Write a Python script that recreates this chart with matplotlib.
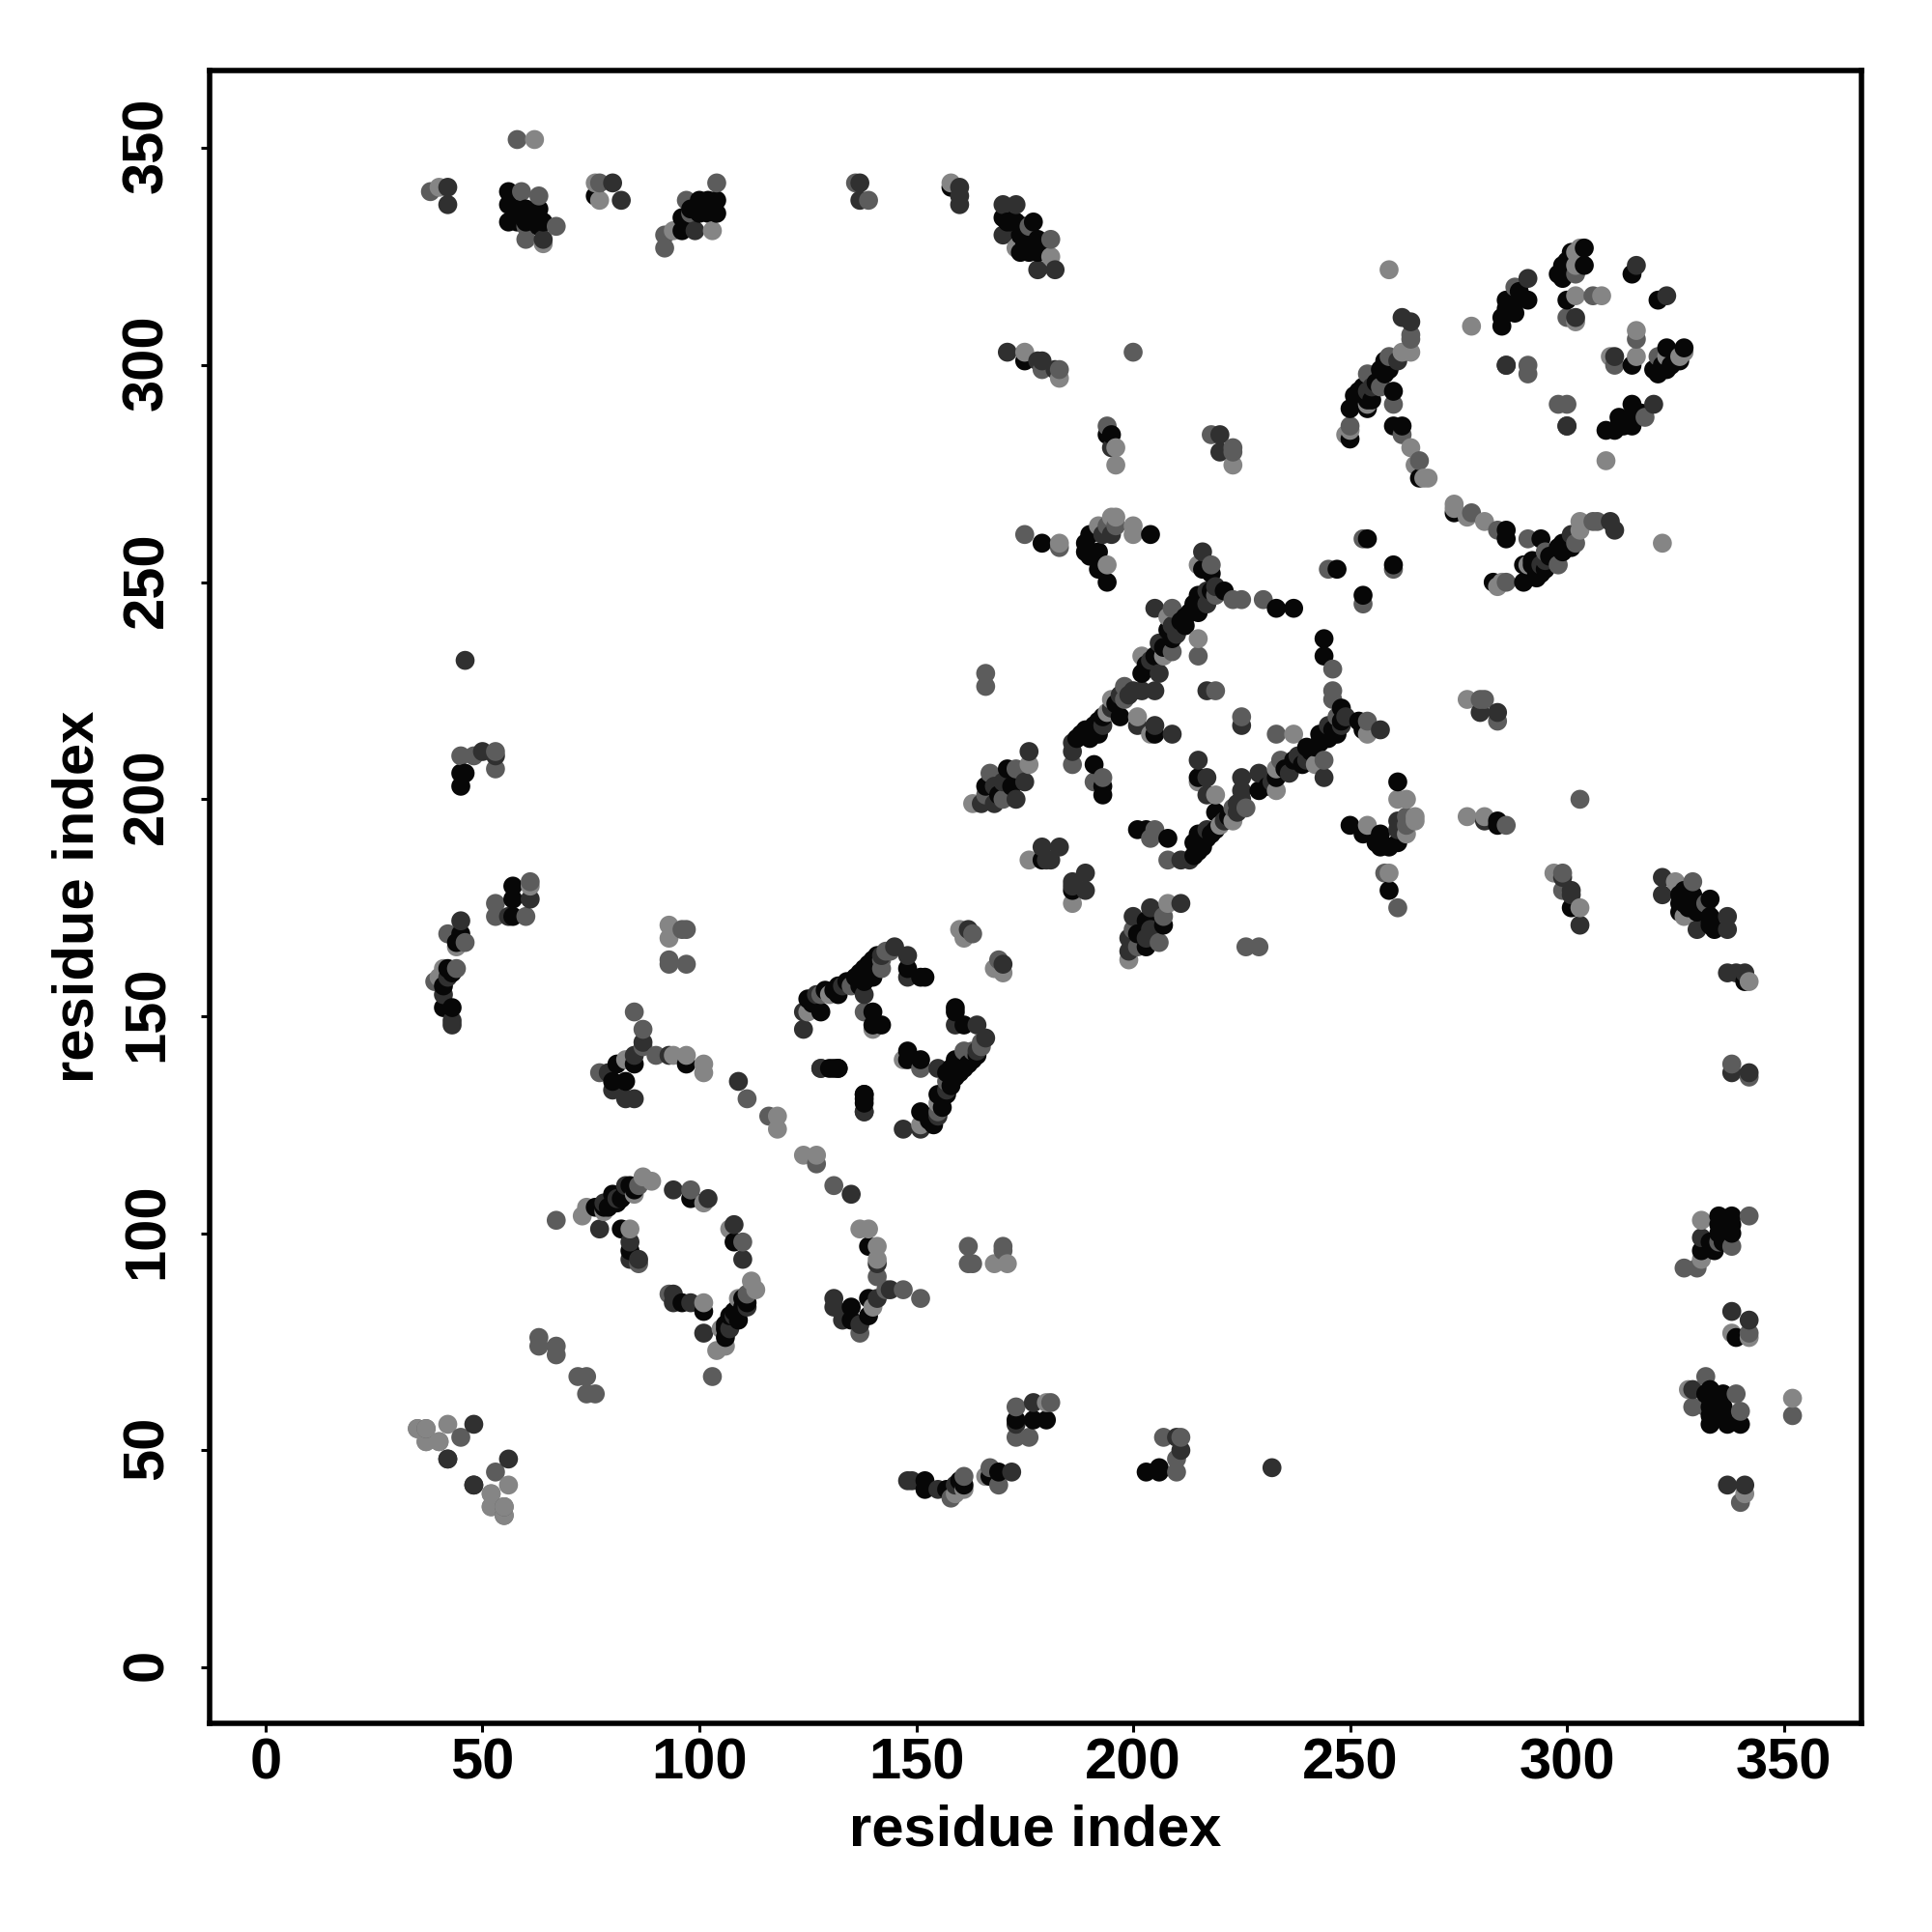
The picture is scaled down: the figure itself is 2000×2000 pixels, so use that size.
import numpy as np
import matplotlib
matplotlib.use('Agg')
import matplotlib.pyplot as plt
from matplotlib.transforms import ScaledTranslation

black = [(56,340),(56,337),(60,336),(63,336),(56,333),(58,333),(63,332),(64,333),(76,339),(100,338),(104,338),(100,335),(104,335),(96,334),(96,331),
         (58,336),(60,333),(62,333),(61,335),(98,333),(102,335),(102,338),(98,336),
         (158,341),(170,334),(173,333),(177,333),(174,330),(178,329),(174,326),(178,326),(175,301),(195,284),(194,284),
         (171,333),(172,333),(175,332),(176,330),(175,328),(176,327),(176,326),(179,327),
         (258,301),(257,299),(259,299),(260,294),(251,293),(252,293),(250,290),(254,290),(250,283),(260,286),(262,286),(266,274),
         (252,294),(253,295),(255,292),(256,296),(258,298),(254,292),
         (254,260),(247,253),(304,327),(301,326),(304,323),(299,323),(298,321),(299,320),(300,315),(315,321),(300,322),(300,324),
         (291,315),(286,315),(288,315),(288,312),(286,312),(285,311),(285,309),(286,313),(287,314),(289,317),
         (179,259),(189,259),(190,261),(189,257),(190,256),(192,257),(192,253),(194,250),(204,261),
         (216,253),(218,252),(218,248),(221,248),(215,247),(214,245),(215,243),(212,242),(212,240),(209,237),(205,233),(202,229),
         (197,219),(192,218),(189,216),(192,215),(187,214),(190,214),(191,208),(193,201),(193,203),(205,215),(233,244),(237,244),
         (188,215),(191,217),(193,219),(196,222),(203,231),(207,235),(208,239),(211,241),(213,243),(216,246),
         (45,206),(46,206),(45,203),(57,180),(57,177),(57,173),(45,169),(44,167),(42,161),(41,157),(41,152),(43,152),
         (141,164),(139,162),(137,160),(140,159),(138,158),(148,161),(151,159),(152,159),(137,157),(132,157),(132,155),(125,154),(128,151),
         (126,153),(129,156),(131,156),(134,158),(136,159),(138,161),(140,163),
         (140,151),(140,148),(142,148),(138,132),(138,130),(131,138),(132,138),
         (81,139),(83,135),(80,135),(85,139),(97,139),(76,106),(80,109),(82,108),(81,107),(84,111),(98,108),(82,101),(84,96),
         (79,106),(83,109),(85,110),(78,106),(83,110),
         (171,207),(172,203),(166,203),(179,186),(169,201),(43,160)]
dark = [(42,341),(42,337),(64,329),(80,342),(82,338),(99,331),
        (137,342),(137,338),(160,341),(160,339),(160,337),(170,337),(173,337),(170,330),(178,322),(182,322),(171,303),(178,301),(179,301),(182,299),(195,281),(220,284),(220,280),
        (262,311),(264,310),(261,301),(255,295),(254,294),(291,320),(302,311),(316,323),(286,300),(300,286),
        (193,261),(195,261),(216,257),(217,245),(209,240),(206,236),(206,229),(205,225),(202,225),(200,225),(197,224),(205,217),(201,217),(209,215),(193,217),(186,213),(186,211),(205,244),(217,225),
        (195,221),(199,224),(204,232),(210,238),(219,249),(217,248),
        (50,211),(53,210),(61,177),(56,173),(45,172),(42,159),(41,155),(43,149),(43,148),(87,144),
        (145,166),(148,164),(148,159),(127,155),(124,151),(124,147),(138,155),(128,138),(138,128),(133,157),(142,164),
        (79,137),(85,141),(93,141),(83,131),(85,131),(80,133),(109,135),
        (78,107),(83,111),(77,101),(94,110),(102,108),(84,98),(84,94),(86,94),(81,108),
        (176,211),(175,204),(168,203),(168,199),(173,200),(165,199),(162,170),(183,189),(181,186),(179,189),(180,186),(170,204),
        (42,48),(48,56),(48,42),(46,232)]
mid = [(58,352),(38,340),(59,340),(63,339),(60,332),(67,332),(60,329),(77,342),(104,342),(97,338),(98,335),(92,330),(92,327),
       (136,342),(139,338),(176,332),(181,329),(179,299),(183,299),(200,303),(194,286),(218,284),(223,281),(223,280),
       (264,307),(264,306),(254,298),(257,295),(260,291),(250,286),(262,284),(266,278),(288,318),(291,298),(291,300),(302,321),(306,316),(300,311),
       (253,260),(245,253),(259,302),
       (175,261),(183,258),(194,263),(196,263),(218,254),(219,247),(209,244),(230,246),(225,246),(223,246),(198,226),(198,223),(219,225),(186,208),(191,204),(193,205),(215,233),(209,234),
       (45,210),(48,210),(53,211),(53,207),(61,181),(53,176),(53,173),(60,173),(42,169),(46,167),(44,161),(39,158),(96,170),(97,170),(93,163),(93,162),(97,162),(85,151),(87,147),
       (143,165),(142,163),(142,161),(135,157),(128,155),(138,151),(163,169),(166,226),(166,229),(144,165),
       (77,137),(87,143),(90,141),(111,131),(116,127),(86,111),(98,110),(86,93),
       (67,103),(63,76),(63,74),(67,74),(67,72),(167,206),(173,207),(166,201),(170,200),(35,55),(37,55),(45,53)]
light = [(62,352),(40,341),(64,328),(76,342),(77,338),(103,331),(94,331),
         (158,342),(181,325),(173,327),(175,303),(183,297),(196,281),(196,277),(223,277),
         (259,322),(264,303),(262,303),(254,291),(250,285),(249,284),(264,281),(265,277),(267,274),(268,274),(278,309),(303,327),(302,326),(302,323),(302,316),(308,316),(302,310),
         (192,263),(195,265),(196,265),(200,263),(200,261),(183,259),(194,254),(215,254),(215,237),(202,233),(207,233),(204,215),(201,219),(195,223),(194,220),(208,242),
         (44,166),(41,161),(40,159),(61,180),(93,171),(93,168),(140,147),(125,151),(130,155),
         (83,140),(94,141),(97,141),(101,139),(101,137),(73,104),(74,106),(78,105),(85,109),(87,113),(89,112),(84,101),(101,107),
         (118,127),(118,124),(160,170),(161,168),(176,208),(163,199),(176,186),
         (37,52),(40,52),(42,56),(52,37),(52,40),(55,37),(55,35)]
groups = [(black, 0.03), (dark, 0.19), (mid, 0.36), (light, 0.52)]
ticks = [0, 50, 100, 150, 200, 250, 300, 350]

i_res, j_res, shade = [], [], []
for pts, g in groups:
    for a, b in pts:
        i_res += [a, b]
        j_res += [b, a]
        shade += [g, g]
i_res = np.array(i_res)
j_res = np.array(j_res)
shade = np.array(shade)
order = np.lexsort((j_res, i_res))

plt.rcParams['font.family'] = ['Liberation Sans', 'DejaVu Sans']
fig = plt.figure(figsize=(10, 10), dpi=200)
ax = fig.add_axes([217/2000, 216/2000, 1710/2000, 1711/2000])
ax.scatter(i_res[order], j_res[order], c=shade[order], cmap='gray', vmin=0, vmax=1, s=50, linewidths=0, clip_on=False)
ax.set_xlim(-12.9, 367.9)
ax.set_ylim(-12.9, 367.9)
ax.set_xticks(ticks)
ax.set_yticks(ticks)
ax.tick_params(axis='x', length=3.1, width=1.1, labelsize=21.5, pad=2)
ax.tick_params(axis='y', length=3.1, width=1.1, labelsize=21.5, pad=10)
for t in ax.get_xticklabels() + ax.get_yticklabels():
    t.set_fontweight('bold')
up = ScaledTranslation(0, 3/200, fig.dpi_scale_trans)
for t in ax.get_yticklabels():
    t.set_rotation(90)
    t.set_va('center')
    t.set_transform(t.get_transform() + up)
for s in ax.spines.values():
    s.set_linewidth(2)
ax.set_xlabel('residue index', fontsize=21.5, fontweight='bold', labelpad=5)
ax.set_ylabel('residue index', fontsize=21.5, fontweight='bold', labelpad=6)
fig.savefig('out.png', dpi=200)
